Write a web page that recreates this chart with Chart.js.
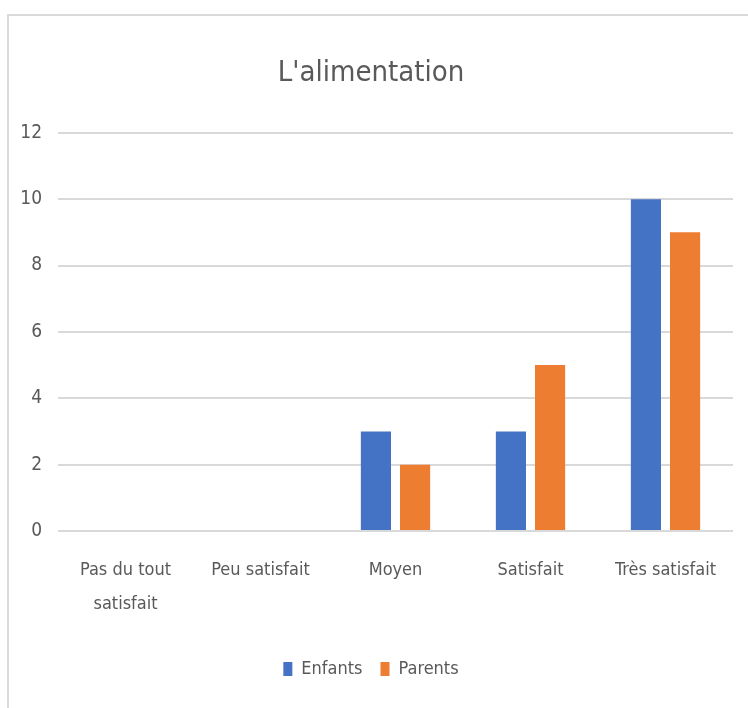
<!DOCTYPE html>
<html>
<head>
<meta charset="utf-8">
<script src="https://cdn.jsdelivr.net/npm/chart.js@4.4.0/dist/chart.umd.min.js"></script>
<style>
    html, body { margin: 0; padding: 0; background: #ffffff; }
    #frame {
        position: absolute;
        left: 7px;
        top: 14px;
        width: 741px;
        height: 694px;
        border-left: 2px solid #d9d9d9;
        border-top: 2px solid #d9d9d9;
        box-sizing: border-box;
    }
    #wrap { position: absolute; left: 0; top: 0; width: 739px; height: 692px; }
</style>
</head>
<body>
<div id="frame"><div id="wrap"><canvas id="foodChart"></canvas></div></div>
<script>
// L'alimentation - satisfaction survey
const categories = [['Pas du tout', 'satisfait'], 'Peu satisfait', 'Moyen', 'Satisfait', 'Très satisfait'];
const enfants = [0, 0, 3, 3, 10];
const parents = [0, 0, 2, 5, 9];
const yTicks = [0, 2, 4, 6, 8, 10, 12];

const FONT = "'DejaVu Sans Condensed', 'Open Sans', sans-serif";
const TEXT = '#595959';

const ctx = document.getElementById('foodChart').getContext('2d');

new Chart(ctx, {
    type: 'bar',
    data: {
        labels: categories,
        datasets: [
            {
                label: 'Enfants',
                data: enfants,
                backgroundColor: '#4472c4',
                categoryPercentage: 0.58,
                barPercentage: 0.77
            },
            {
                label: 'Parents',
                data: parents,
                backgroundColor: '#ed7d31',
                categoryPercentage: 0.58,
                barPercentage: 0.77
            }
        ]
    },
    options: {
        responsive: true,
        maintainAspectRatio: false,
        animation: false,
        layout: {
            padding: { left: 0, right: 15, top: 0, bottom: 20 }
        },
        scales: {
            x: {
                grid: { display: false, drawTicks: false },
                border: { display: false },
                ticks: {
                    color: TEXT,
                    font: { family: FONT, size: 18, lineHeight: 1.9 },
                    padding: 22,
                    maxRotation: 0,
                    autoSkip: false
                },
                afterFit: (scale) => { scale.height = 111; }
            },
            y: {
                min: 0,
                max: 12,
                afterBuildTicks: (scale) => {
                    scale.ticks = yTicks.map(v => ({ value: v }));
                },
                grid: {
                    color: '#d9d9d9',
                    lineWidth: 2,
                    drawTicks: false
                },
                border: { display: false },
                ticks: {
                    color: TEXT,
                    font: { family: FONT, size: 19 },
                    padding: 16
                },
                afterFit: (scale) => { scale.width = 49; }
            }
        },
        plugins: {
            title: {
                display: true,
                text: "L'alimentation",
                color: TEXT,
                font: { family: FONT, size: 29, weight: 'normal' },
                padding: { top: 40, bottom: 42 }
            },
            legend: {
                position: 'bottom',
                labels: {
                    color: TEXT,
                    font: { family: FONT, size: 18 },
                    boxWidth: 9,
                    boxHeight: 14,
                    padding: 18
                }
            },
            tooltip: { enabled: false }
        }
    }
});
</script>
</body>
</html>
